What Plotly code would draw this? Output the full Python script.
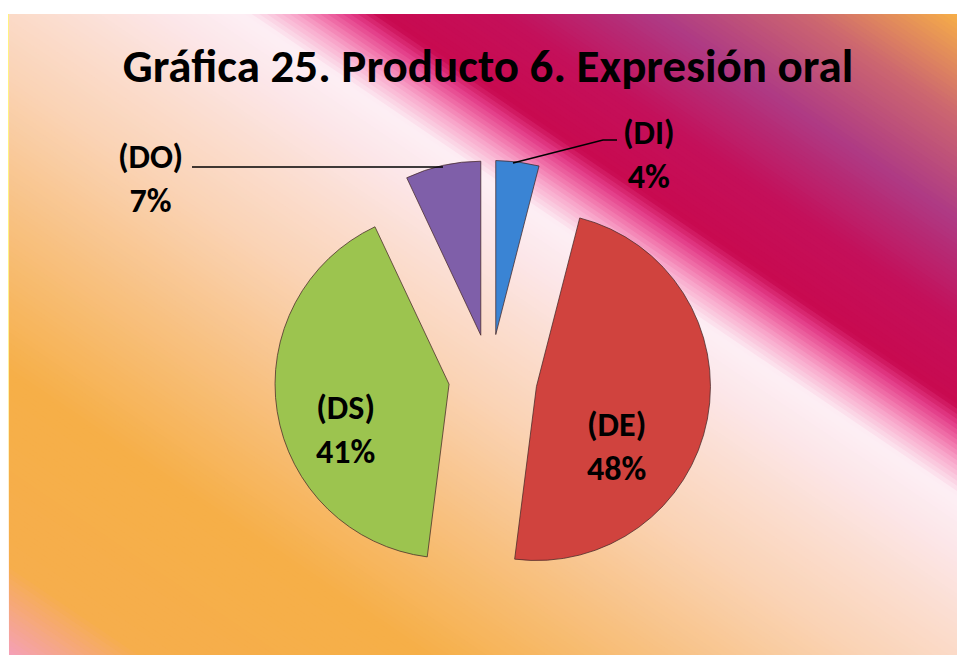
import plotly.graph_objects as go
import numpy as np

# ---------------- data ----------------
labels = ["DI", "DE", "DS", "DO"]
values = [4, 48, 41, 7]
title_text = "Gráfica 25. Producto 6. Expresión oral"

# ---------------- style ----------------
pulls = [0.25, 0.27, 0.24, 0.25]
colors = ["#3A84D4", "#D0433E", "#9CC44F", "#7F5FA9"]
FONT = "Calibri, Carlito, Lato, sans-serif"
W, H = 957, 655


def px(x, y):
    return x / W, 1 - y / H


# background gradient (Office-like preset), t: 0 bottom-left -> 1 top-right
stops = [
    (0.00, "#F5A0B8"), (0.07, "#F6AE4C"), (0.22, "#F6AF48"), (0.35, "#F8C285"),
    (0.45, "#FAD3B5"), (0.52, "#FBDDCF"), (0.58, "#FCE6E8"), (0.625, "#FDEFF5"),
    (0.635, "#FBD2E3"), (0.65, "#F8A6CA"), (0.665, "#F070A8"), (0.68, "#E23A86"),
    (0.695, "#C80A50"), (0.76, "#C4105A"), (0.84, "#AE3A84"), (0.92, "#CC6670"),
    (1.00, "#F6AE48"),
]


def hex2rgb(h):
    h = h.lstrip("#")
    return np.array([int(h[i:i + 2], 16) for i in (0, 2, 4)], float)


def color_at(t):
    for (t0, c0), (t1, c1) in zip(stops[:-1], stops[1:]):
        if t0 <= t <= t1:
            f = 0 if t1 == t0 else (t - t0) / (t1 - t0)
            c = hex2rgb(c0) * (1 - f) + hex2rgb(c1) * f
            return "rgb(%d,%d,%d)" % tuple(np.round(c))
    return stops[-1][1]


def clip_half(k):
    # square [0,1]^2 in (u,v), keep u - v >= k
    sq = [(0, 0), (1, 0), (1, 1), (0, 1)]
    out = []
    for i in range(4):
        p, q = sq[i], sq[(i + 1) % 4]
        fp, fq = p[0] - p[1] - k, q[0] - q[1] - k
        if fp >= 0:
            out.append(p)
        if (fp >= 0) != (fq >= 0):
            s = fp / (fp - fq)
            out.append((p[0] + s * (q[0] - p[0]), p[1] + s * (q[1] - p[1])))
    return out


X0, Y0, BW, BH = 9, 14, 948, 641
shapes = []
for t in np.arange(0, 1.0, 0.004):
    poly = clip_half(2 * t - 1)
    if len(poly) < 3:
        continue
    pts = [px(X0 + u * BW, Y0 + v * BH) for u, v in poly]
    path = "M " + " L ".join("%.5f %.5f" % p for p in pts) + " Z"
    shapes.append(dict(type="path", path=path, xref="paper", yref="paper",
                       fillcolor=color_at(t + 0.002), line=dict(width=0), layer="below"))


# leader lines
def line_path(points):
    pts = [px(x, y) for x, y in points]
    return "M " + " L ".join("%.5f %.5f" % p for p in pts)


shapes.append(dict(type="path", path=line_path([(192, 167), (443, 167)]),
                   xref="paper", yref="paper", line=dict(color="black", width=1.6)))
shapes.append(dict(type="path", path=line_path([(513, 163), (603, 140), (617, 140)]),
                   xref="paper", yref="paper", line=dict(color="black", width=1.6)))

# pie domain (center & size in pixels)
cx, cy, box = 490.3, 377.7, 442
dom_x = [(cx - box / 2) / W, (cx + box / 2) / W]
dom_y = [1 - (cy + box / 2) / H, 1 - (cy - box / 2) / H]

fig = go.Figure(go.Pie(
    labels=labels, values=values, sort=False, direction="clockwise", rotation=0,
    pull=pulls, marker=dict(colors=colors, line=dict(color="rgba(70,40,40,0.75)", width=1)),
    textinfo="none", hoverinfo="label+percent", domain=dict(x=dom_x, y=dom_y),
    showlegend=False,
))

label_pos = {"DI": (649, 154), "DE": (616, 446), "DS": (345, 429), "DO": (150, 179)}
total = sum(values)
annotations = []
for lab, val in zip(labels, values):
    x, y = px(*label_pos[lab])
    annotations.append(dict(
        x=x, y=y, xref="paper", yref="paper", showarrow=False,
        text="<b>(%s)<br>%d%%</b>" % (lab, round(val / total * 100)),
        font=dict(family=FONT, size=34, color="black"), align="center",
        xanchor="center", yanchor="middle"))

tx, ty = px(488, 66)
fig.update_layout(
    width=W, height=H, autosize=False,
    margin=dict(l=0, r=0, t=0, b=0),
    paper_bgcolor="white", plot_bgcolor="white",
    title=dict(text="<b>%s</b>" % title_text, x=tx, y=ty, xanchor="center", yanchor="middle",
               font=dict(family=FONT, size=47, color="black")),
    shapes=shapes, annotations=annotations,
)

fig.write_html("out.html", config={"displayModeBar": False},
               post_script="document.body.style.margin='0';")
